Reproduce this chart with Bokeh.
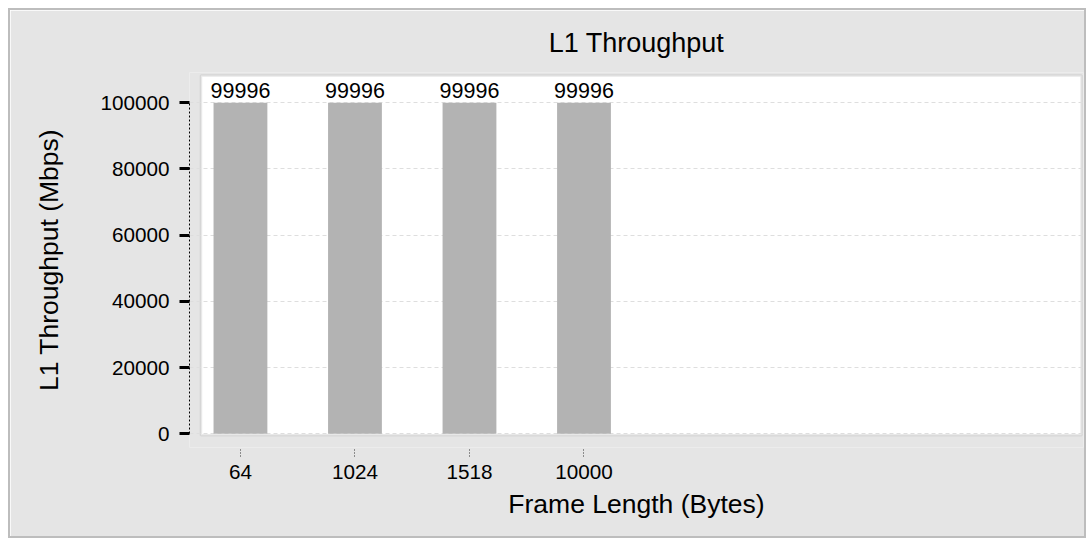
from bokeh.plotting import figure
from bokeh.models import Range1d, FixedTicker, BoxAnnotation, ColumnDataSource, LabelSet
from bokeh.core.properties import value
from bokeh.embed import file_html
from bokeh.resources import INLINE

# ---- data ----
frame_lengths = ["64", "1024", "1518", "10000"]
throughput = [99996, 99996, 99996, 99996]
y_ticks = [0, 20000, 40000, 60000, 80000, 100000]
y_tick_labels = ["0", "20000", "40000", "60000", "80000", "100000"]
title_text = "L1 Throughput"

FONT = "Liberation Sans"

xs = list(range(len(frame_lengths)))
src = ColumnDataSource(dict(x=xs, y=throughput, label=[str(v) for v in throughput]))

p = figure(width=1078, height=530, output_backend="svg", toolbar_location=None,
           x_range=Range1d(-0.445, 7.362), y_range=Range1d(-4139, 109154),
           min_border_left=179, min_border_right=5, min_border_top=62, min_border_bottom=93,
           background_fill_color="#e5e5e5", border_fill_color="#e5e5e5",
           outline_line_color=None)
p.styles = {"border": "2px solid #bdbdbd", "margin": "8px"}

# panel
PANEL_L, PANEL_R = -0.345, 7.345
panel = BoxAnnotation(left=PANEL_L, right=PANEL_R, bottom=-423, top=108248,
                      fill_color="white", fill_alpha=1.0,
                      line_color="#b3b3b3", line_width=2.5, level="image")
p.add_layout(panel)

# title
p.title.text = title_text
p.title.align = "center"
p.title.vertical_align = "top"
p.title.offset = 4.5
p.title.standoff = 26
p.title.text_font = FONT
p.title.text_font_size = "27px"
p.title.text_font_style = "normal"
p.title.text_color = "black"

# grids
p.xgrid.visible = False
p.ygrid.ticker = FixedTicker(ticks=y_ticks)
p.ygrid.grid_line_color = "#dedede"
p.ygrid.grid_line_dash = "4 3"
p.ygrid.grid_line_width = 1

# y axis
ya = p.yaxis[0]
ya.ticker = FixedTicker(ticks=y_ticks)
ya.major_label_overrides = {t: l for t, l in zip(y_ticks, y_tick_labels)}
ya.bounds = (y_ticks[0], y_ticks[-1])
ya.axis_line_color = "black"
ya.axis_line_dash = "2 2"
ya.axis_line_width = 1
ya.major_tick_out = 10
ya.major_tick_in = 0
ya.major_tick_line_width = 3
ya.major_tick_line_color = "black"
ya.minor_tick_out = 0
ya.minor_tick_in = 0
ya.major_label_standoff = 10
ya.major_label_text_font = FONT
ya.major_label_text_font_size = "20.7px"
ya.major_label_text_color = "black"
ya.axis_label = "L1 Throughput (Mbps)"
ya.axis_label_text_font = FONT
ya.axis_label_text_font_size = "26.5px"
ya.axis_label_text_font_style = "normal"
ya.axis_label_text_color = "black"
ya.axis_label_standoff = 33

# x axis
xa = p.xaxis[0]
xa.ticker = FixedTicker(ticks=xs)
xa.major_label_overrides = {i: l for i, l in zip(xs, frame_lengths)}
xa.axis_line_color = None
xa.major_tick_out = 9
xa.major_tick_in = 0
xa.major_tick_line_dash = "1 2"
xa.major_tick_line_color = "#333333"
xa.major_tick_line_width = 1
xa.minor_tick_out = 0
xa.minor_tick_in = 0
xa.major_label_standoff = 8
xa.major_label_text_font = FONT
xa.major_label_text_font_size = "20.7px"
xa.major_label_text_color = "black"
xa.axis_label = "Frame Length (Bytes)"
xa.axis_label_text_font = FONT
xa.axis_label_text_font_size = "26.5px"
xa.axis_label_text_font_style = "normal"
xa.axis_label_text_color = "black"
xa.axis_label_standoff = 7

# bars
p.vbar(x="x", top="y", width=0.47, source=src, fill_color="#b3b3b3", line_color=None)
labels = LabelSet(x="x", y="y", text="label", source=src, text_align="center",
                  text_baseline="alphabetic", y_offset=5, text_font=value(FONT),
                  text_font_size=value("21.5px"), text_color="black")
p.add_layout(labels)

open("out.html", "w").write(file_html(p, INLINE))
